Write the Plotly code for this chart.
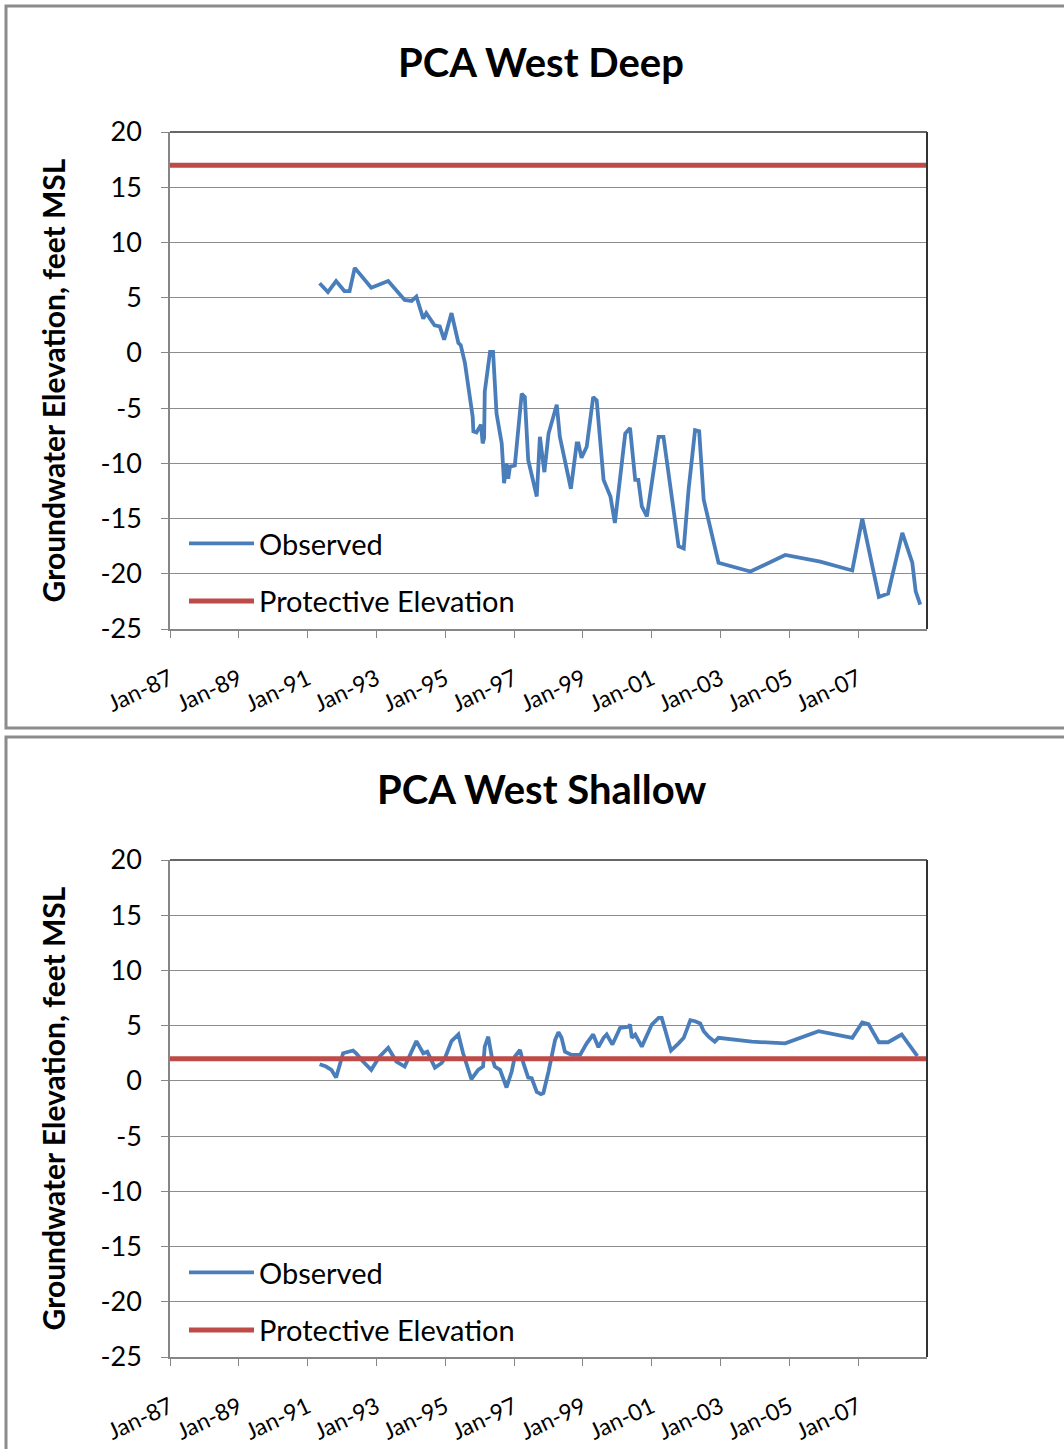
import plotly.graph_objects as go

# ---- data ----
deep_dates = [
    "1991-05-08", "1991-08-04", "1991-10-30", "1992-01-26", "1992-03-21", "1992-05-15",
    "1992-11-06", "1993-05-05", "1993-10-27", "1994-01-08", "1994-02-28", "1994-05-12",
    "1994-06-13", "1994-09-09", "1994-11-03", "1994-12-20", "1995-03-08", "1995-05-20",
    "1995-06-14", "1995-07-28", "1995-10-19", "1995-10-26", "1995-11-28", "1996-01-15",
    "1996-02-02", "1996-02-17", "1996-02-24", "1996-04-20", "1996-05-22", "1996-06-28",
    "1996-08-22", "1996-09-16", "1996-10-12", "1996-10-30", "1996-11-17", "1997-01-08",
    "1997-03-22", "1997-04-24", "1997-05-30", "1997-08-29", "1997-10-01", "1997-11-18",
    "1998-01-01", "1998-03-29", "1998-05-01", "1998-08-26", "1998-10-27", "1998-11-14",
    "1998-12-17", "1999-02-10", "1999-04-20", "1999-05-27", "1999-08-08", "1999-10-20",
    "1999-12-06", "2000-03-25", "2000-05-15", "2000-07-09", "2000-08-11", "2000-09-17",
    "2000-11-10", "2001-03-14", "2001-05-05", "2001-10-12", "2001-12-06", "2002-01-26",
    "2002-04-05", "2002-05-19", "2002-07-06", "2002-12-10", "2003-11-14", "2004-11-17",
    "2005-11-24", "2006-10-30", "2007-02-13", "2007-08-08", "2007-11-14", "2008-04-13",
    "2008-07-28", "2008-09-02", "2008-10-20",
]
deep_obs = [
    6.3, 5.5, 6.5, 5.6, 5.6, 7.7,
    5.9, 6.5, 4.8, 4.7, 5.1, 3.1,
    3.6, 2.5, 2.4, 1.2, 3.6, 0.9,
    0.7, -0.9, -5.8, -7.1, -7.2, -6.5,
    -8.2, -7.7, -3.5, 0.1, 0.1, -5.5,
    -8.2, -11.8, -10.0, -11.4, -10.3, -10.2,
    -3.7, -4.0, -9.7, -13.0, -7.6, -10.8,
    -7.3, -4.7, -7.6, -12.3, -8.2, -8.2,
    -9.5, -8.5, -4.0, -4.3, -11.5, -13.0,
    -15.4, -7.3, -6.8, -11.5, -11.5, -13.9,
    -14.8, -7.6, -7.6, -17.5, -17.7, -12.4,
    -7.0, -7.1, -13.3, -19.0, -19.8, -18.3,
    -18.9, -19.7, -15.0, -22.1, -21.8, -16.3,
    -19.0, -21.6, -22.8,
]

shallow_dates = [
    "1991-05-08", "1991-07-16", "1991-09-10", "1991-10-30", "1992-01-12", "1992-04-27",
    "1992-05-30", "1992-08-11", "1992-11-06", "1993-02-02", "1993-05-05", "1993-07-31",
    "1993-10-27", "1994-02-28", "1994-05-12", "1994-06-24", "1994-09-13", "1994-11-21",
    "1994-12-28", "1995-03-08", "1995-05-20", "1995-07-09", "1995-10-05", "1995-12-16",
    "1996-02-06", "1996-02-24", "1996-04-01", "1996-05-08", "1996-06-10", "1996-08-04",
    "1996-10-12", "1996-12-06", "1997-01-08", "1997-03-04", "1997-04-09", "1997-05-30",
    "1997-07-06", "1997-08-29", "1997-10-12", "1997-11-07", "1998-01-01", "1998-03-11",
    "1998-04-16", "1998-05-19", "1998-06-24", "1998-09-02", "1998-12-02", "1999-02-10",
    "1999-04-20", "1999-06-14", "1999-08-08", "1999-09-10", "1999-11-10", "2000-01-30",
    "2000-05-01", "2000-05-15", "2000-06-03", "2000-07-09", "2000-09-17", "2001-01-01",
    "2001-03-14", "2001-04-16", "2001-05-23", "2001-07-24", "2001-10-12", "2001-12-06",
    "2002-02-14", "2002-04-05", "2002-05-30", "2002-07-06", "2002-08-26", "2002-10-31",
    "2002-12-10", "2003-11-28", "2004-11-17", "2005-11-06", "2006-10-30", "2007-02-13",
    "2007-04-20", "2007-08-08", "2007-11-14", "2008-04-06", "2008-09-20",
]
shallow_obs = [
    1.5, 1.3, 1.0, 0.3, 2.5, 2.75,
    2.5, 1.75, 1.0, 2.2, 3.0, 1.75,
    1.3, 3.6, 2.5, 2.65, 1.2, 1.6,
    2.05, 3.6, 4.2, 2.5, 0.15, 1.0,
    1.3, 3.1, 4.0, 2.2, 1.3, 1.0,
    -0.6, 0.85, 2.2, 2.8, 1.6, 0.3,
    0.25, -1.0, -1.2, -1.1, 0.85, 3.7,
    4.4, 3.9, 2.65, 2.35, 2.35, 3.4,
    4.2, 3.05, 3.9, 4.2, 3.3, 4.8,
    4.9, 5.1, 3.9, 4.2, 3.1, 5.1,
    5.7, 5.7, 4.6, 2.75, 3.4, 3.9,
    5.5, 5.4, 5.2, 4.5, 4.0, 3.55,
    3.9, 3.55, 3.4, 4.5, 3.9, 5.3,
    5.15, 3.5, 3.5, 4.2, 2.25,
]

axis_span = ["1987-01-01", "2008-12-31"]
deep_protective = [17, 17]
shallow_protective = [2, 2]

y_ticks = [-25, -20, -15, -10, -5, 0, 5, 10, 15, 20]
y_ticklabels = ["-25", "-20", "-15", "-10", "-5", "0", "5", "10", "15", "20"]

titles = ["PCA West Deep", "PCA West Shallow"]
y_title = "Groundwater Elevation, feet MSL"

# ---- styling ----
W, H = 1064, 1449
BLUE = "#4A7EBB"
RED = "#BE4B48"
FONT = "Lato, Calibri, Carlito, sans-serif"

def px_x(p):
    return p / W

def px_y(p):
    return 1 - p / H

fig = go.Figure()

panels = [
    dict(dates=deep_dates, obs=deep_obs, prot=deep_protective, top=132, bottom=629,
         xa="x", ya="y", leg="legend", box=(6, 728), title_y=62, leg_y=518),
    dict(dates=shallow_dates, obs=shallow_obs, prot=shallow_protective, top=860, bottom=1357,
         xa="x2", ya="y2", leg="legend2", box=(737, 1460), title_y=789, leg_y=1247),
]

shapes = []
annotations = []
for i, p in enumerate(panels):
    fig.add_trace(go.Scatter(
        x=p["dates"], y=p["obs"], name="Observed", mode="lines",
        line=dict(color=BLUE, width=3.8), xaxis=p["xa"], yaxis=p["ya"],
        legend=p["leg"], legendgroup=f"obs{i}",
    ))
    fig.add_trace(go.Scatter(
        x=axis_span, y=p["prot"], name="Protective Elevation", mode="lines",
        line=dict(color=RED, width=5), xaxis=p["xa"], yaxis=p["ya"],
        legend=p["leg"], legendgroup=f"prot{i}", cliponaxis=False,
    ))

    # outer panel frame
    shapes.append(dict(type="rect", xref="paper", yref="paper",
                       x0=px_x(6), x1=px_x(1075), y0=px_y(p["box"][1]), y1=px_y(p["box"][0]),
                       line=dict(color="#8C8C8C", width=3), layer="below"))
    # dark top / right edges of the plot area
    xd = "x domain" if i == 0 else "x2 domain"
    yd = "y domain" if i == 0 else "y2 domain"
    shapes.append(dict(type="line", xref=xd, yref=yd, x0=0, x1=1, y0=1, y1=1,
                       line=dict(color="#333333", width=1.5)))
    shapes.append(dict(type="line", xref=xd, yref=yd, x0=1, x1=1, y0=0, y1=1,
                       line=dict(color="#333333", width=2)))

    annotations.append(dict(text=f"<b>{titles[i]}</b>", xref="paper", yref="paper",
                            x=px_x(541), y=px_y(p["title_y"]), xanchor="center", yanchor="middle",
                            showarrow=False, font=dict(family=FONT, size=40, color="black")))

    axis_x = dict(
        domain=[px_x(170), px_x(927)], type="date", range=axis_span, automargin=False,
        tick0="1987-01-01", dtick="M24", tickformat="%b-%y", tickangle=-25,
        ticks="outside", ticklen=7, tickcolor="#868686", showgrid=False,
        showline=True, linecolor="#868686", linewidth=1.5, zeroline=False,
        tickfont=dict(family=FONT, size=23, color="black"), ticklabelstandoff=19,
        anchor=p["ya"],
    )
    axis_y = dict(
        domain=[px_y(p["bottom"]), px_y(p["top"])], range=[-25, 20], automargin=False,
        tickmode="array", tickvals=y_ticks, ticktext=y_ticklabels,
        ticks="outside", ticklen=7, tickcolor="#868686", showgrid=True,
        gridcolor="#8C8C8C", gridwidth=1, showline=True, linecolor="#868686",
        linewidth=1.5, zeroline=False, ticklabelstandoff=14,
        tickfont=dict(family=FONT, size=27, color="black"),
        title=dict(text=f"<b>{y_title}</b>", standoff=26,
                   font=dict(family=FONT, size=30, color="black")),
        anchor=p["xa"],
    )
    if i == 0:
        fig.update_layout(xaxis=axis_x, yaxis=axis_y)
    else:
        fig.update_layout(xaxis2=axis_x, yaxis2=axis_y)

    fig.update_layout(**{p["leg"]: dict(
        x=px_x(184), y=px_y(p["leg_y"]), xanchor="left", yanchor="top",
        bgcolor="rgba(0,0,0,0)", tracegroupgap=17, itemwidth=65,
        font=dict(family=FONT, size=29, color="black"),
    )})

fig.update_layout(
    width=W, height=H,
    margin=dict(l=0, r=0, t=0, b=0, autoexpand=False),
    paper_bgcolor="white", plot_bgcolor="white",
    shapes=shapes, annotations=annotations,
)

# the page body has an 8px default margin; drop it so the figure fills the window
fig.write_html("out.html", config={"displayModeBar": False},
               post_script="document.body.style.margin='0';")
